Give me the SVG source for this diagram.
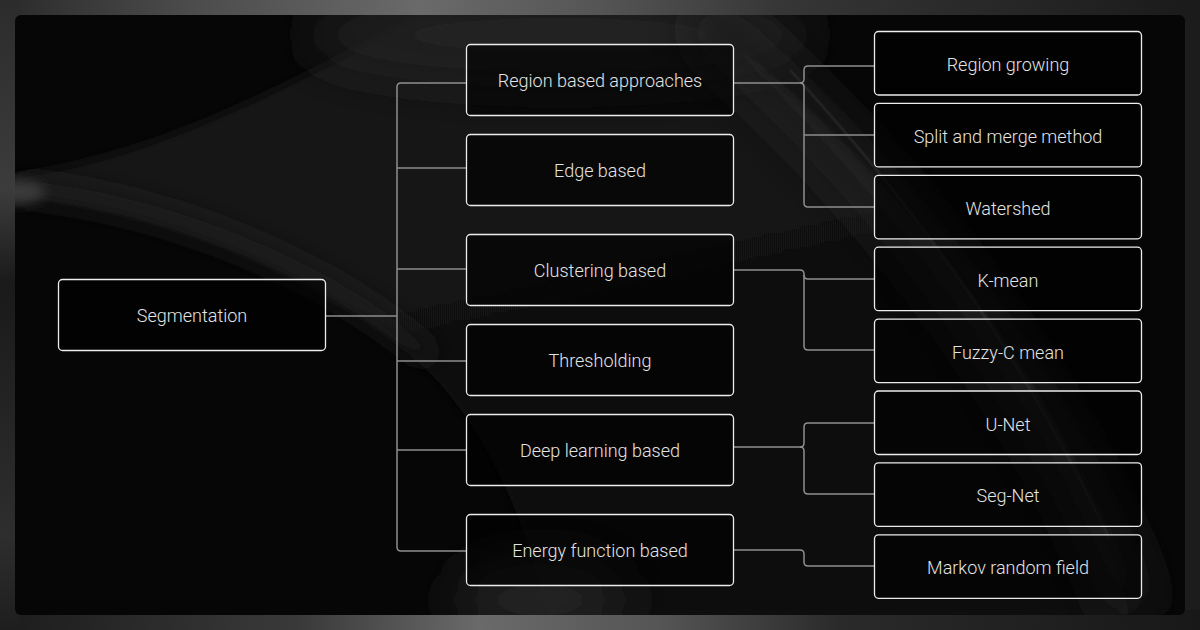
<svg xmlns="http://www.w3.org/2000/svg" width="1200" height="630" viewBox="0 0 1200 630">
<style>
.node rect{fill:rgba(0,0,0,0.6);stroke:#ededed;stroke-width:1.3}
.node text{font-family:Roboto,"Liberation Sans",sans-serif;font-size:18px;font-weight:300;fill:#e4e4e4;text-anchor:middle;dominant-baseline:central}
.conn path{fill:none;stroke:#8e8e8e;stroke-width:1.5}
</style>
<defs>
<filter id="b25" x="-50%" y="-50%" width="200%" height="200%"><feGaussianBlur stdDeviation="25"/></filter>
<filter id="b12" x="-50%" y="-50%" width="200%" height="200%"><feGaussianBlur stdDeviation="12"/></filter>
<filter id="b6" x="-50%" y="-50%" width="200%" height="200%"><feGaussianBlur stdDeviation="6"/></filter>
<filter id="b1" x="-50%" y="-50%" width="200%" height="200%"><feGaussianBlur stdDeviation="1"/></filter>
<clipPath id="panel"><rect x="15" y="15" width="1170" height="600" rx="6"/></clipPath>
<linearGradient id="topStrip" x1="0" x2="1" y1="0" y2="0">
<stop offset="0" stop-color="#2a2a2a"/><stop offset="0.15" stop-color="#4a4a4a"/><stop offset="0.35" stop-color="#6a6a6a"/><stop offset="0.5" stop-color="#555"/><stop offset="0.65" stop-color="#363636"/><stop offset="1" stop-color="#1a1a1a"/>
</linearGradient>
<linearGradient id="botStrip" x1="0" x2="1" y1="0" y2="0">
<stop offset="0" stop-color="#1c1c1c"/><stop offset="0.25" stop-color="#3a3a3a"/><stop offset="0.4" stop-color="#6a6a6a"/><stop offset="0.55" stop-color="#555"/><stop offset="0.7" stop-color="#2a2a2a"/><stop offset="1" stop-color="#181818"/>
</linearGradient>
<linearGradient id="leftStrip" x1="0" x2="0" y1="0" y2="1">
<stop offset="0" stop-color="#2c2c2c"/><stop offset="0.3" stop-color="#3c3c3c"/><stop offset="0.45" stop-color="#1a1a1a"/><stop offset="0.85" stop-color="#2e2e2e"/><stop offset="1" stop-color="#1e1e1e"/>
</linearGradient>
<linearGradient id="midGrad" x1="0" x2="0.4" y1="0" y2="1">
<stop offset="0" stop-color="#1c1c1c"/><stop offset="0.5" stop-color="#121212"/><stop offset="1" stop-color="#0e0e0e"/>
</linearGradient>
</defs>

<g id="background">
<rect x="0" y="0" width="1200" height="630" fill="#1c1c1c"/>
<rect x="0" y="0" width="1200" height="20" fill="url(#topStrip)"/>
<rect x="0" y="610" width="1200" height="20" fill="url(#botStrip)"/>
<rect x="0" y="0" width="20" height="630" fill="url(#leftStrip)"/>
<rect x="15" y="15" width="1170" height="600" rx="6" fill="#060606"/>
<g clip-path="url(#panel)">
<path d="M15,195 C170,210 330,278 425,368 C490,432 525,520 548,615 L1130,615 C1080,420 960,230 700,15 L420,15 C300,80 150,160 15,175 Z" fill="url(#midGrad)" filter="url(#b6)"/>
<path d="M15,188 C170,203 330,270 430,358" fill="none" stroke="#1e1e1e" stroke-width="20" filter="url(#b12)"/>
<ellipse cx="15" cy="192" rx="30" ry="12" fill="#3a3a3a" filter="url(#b6)"/>
<ellipse cx="560" cy="35" rx="260" ry="45" fill="#202020" filter="url(#b25)"/>
<path d="M700,15 C880,170 1050,380 1135,615" fill="none" stroke="#202020" stroke-width="44" filter="url(#b25)"/>
<path d="M790,70 C900,190 1010,330 1110,540" fill="none" stroke="#333" stroke-width="1.5" filter="url(#b1)"/>
<ellipse cx="540" cy="600" rx="90" ry="45" fill="#222" filter="url(#b25)"/>
</g>
</g>

<g class="conn" id="connectors">
<path d="M326,316 H397"/>
<path d="M466,83 H401 Q397,83 397,87 V547 Q397,551 401,551 H466"/>
<path d="M397,168 H466"/>
<path d="M397,269 H466"/>
<path d="M397,361 H466"/>
<path d="M397,450 H466"/>
<path d="M733,83 H800 Q804,83 804,79 V70 Q804,66 808,66 H874"/>
<path d="M800,83 Q804,83 804,87 V203 Q804,207 808,207 H874"/>
<path d="M804,135 H874"/>
<path d="M733,270 H800 Q804,270 804,274 V346 Q804,350 808,350 H874"/>
<path d="M804,275 Q804,279 808,279 H874"/>
<path d="M733,447 H800 Q804,447 804,443 V427 Q804,423 808,423 H874"/>
<path d="M800,447 Q804,447 804,451 V490 Q804,494 808,494 H874"/>
<path d="M733,550 H800 Q804,550 804,554 V562 Q804,566 808,566 H874"/>
</g>

<g class="node" id="segmentation"><rect x="58.5" y="279.5" width="267" height="71" rx="4"/><text x="192" y="315.5">Segmentation</text></g>

<g class="node" id="region-based"><rect x="466.5" y="44.5" width="267" height="71" rx="4"/><text x="600" y="80.5">Region based approaches</text></g>
<g class="node" id="edge-based"><rect x="466.5" y="134.5" width="267" height="71" rx="4"/><text x="600" y="170.5">Edge based</text></g>
<g class="node" id="clustering-based"><rect x="466.5" y="234.5" width="267" height="71" rx="4"/><text x="600" y="270.5">Clustering based</text></g>
<g class="node" id="thresholding"><rect x="466.5" y="324.5" width="267" height="71" rx="4"/><text x="600" y="360.5">Thresholding</text></g>
<g class="node" id="deep-learning"><rect x="466.5" y="414.5" width="267" height="71" rx="4"/><text x="600" y="450.5">Deep learning based</text></g>
<g class="node" id="energy-function"><rect x="466.5" y="514.5" width="267" height="71" rx="4"/><text x="600" y="550.5">Energy function based</text></g>

<g class="node" id="region-growing"><rect x="874.5" y="31.5" width="267" height="63.5" rx="4"/><text x="1008" y="64.5">Region growing</text></g>
<g class="node" id="split-merge"><rect x="874.5" y="103.4" width="267" height="63.5" rx="4"/><text x="1008" y="136.4">Split and merge method</text></g>
<g class="node" id="watershed"><rect x="874.5" y="175.3" width="267" height="63.5" rx="4"/><text x="1008" y="208.3">Watershed</text></g>
<g class="node" id="k-mean"><rect x="874.5" y="247.2" width="267" height="63.5" rx="4"/><text x="1008" y="280.2">K-mean</text></g>
<g class="node" id="fuzzy-c-mean"><rect x="874.5" y="319.1" width="267" height="63.5" rx="4"/><text x="1008" y="352.1">Fuzzy-C mean</text></g>
<g class="node" id="u-net"><rect x="874.5" y="391" width="267" height="63.5" rx="4"/><text x="1008" y="424">U-Net</text></g>
<g class="node" id="seg-net"><rect x="874.5" y="462.9" width="267" height="63.5" rx="4"/><text x="1008" y="495.9">Seg-Net</text></g>
<g class="node" id="markov"><rect x="874.5" y="534.8" width="267" height="63.5" rx="4"/><text x="1008" y="567.8">Markov random field</text></g>
</svg>
